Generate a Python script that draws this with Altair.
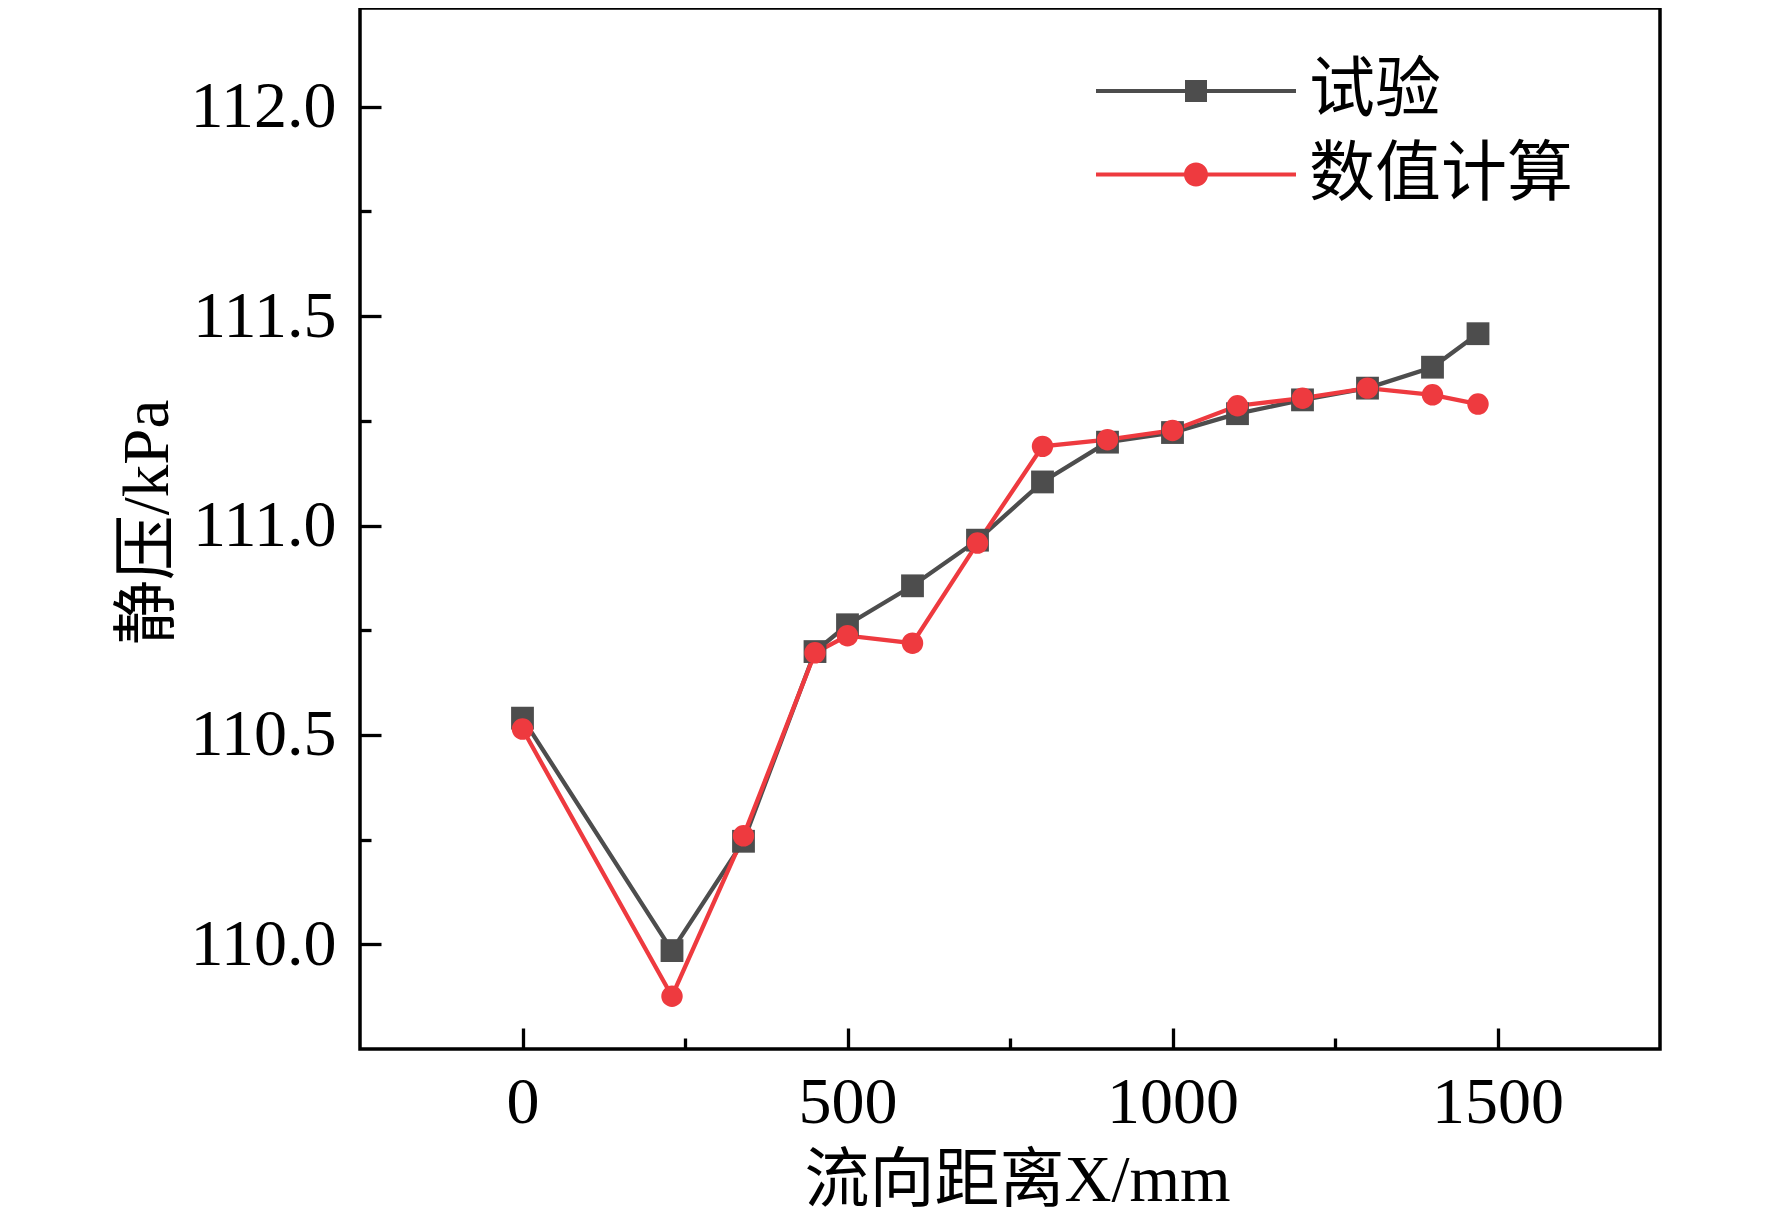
import altair as alt
import pandas as pd

# ---------------- data ----------------
series_names = ["试验", "数值计算"]
x_pos = [0, 230, 340, 450, 500, 600, 700, 800, 900, 1000, 1100, 1200, 1300, 1400, 1470]
y_test = [110.540, 109.985, 110.246, 110.699, 110.763, 110.856, 110.965, 111.104,
          111.199, 111.222, 111.267, 111.300, 111.328, 111.378, 111.458]
y_num = [110.514, 109.876, 110.259, 110.696, 110.737, 110.719, 110.958, 111.189,
         111.205, 111.227, 111.286, 111.304, 111.328, 111.312, 111.290]

x_major = [0, 500, 1000, 1500]
x_minor = [250, 750, 1250]
y_major = [110.0, 110.5, 111.0, 111.5, 112.0]
y_minor = [110.25, 110.75, 111.25, 111.75]

df = pd.DataFrame({
    "x": x_pos + x_pos,
    "y": y_test + y_num,
    "series": [series_names[0]] * len(x_pos) + [series_names[1]] * len(x_pos),
})

# ---------------- styling ----------------
FONT = "Liberation Serif, Noto Sans CJK SC"
W, H = 1300, 1041
colors = ["#4D4D4D", "#EE3A3F"]

# legend symbols: line segment with a marker in the middle (unit box -1..1)
SQ_PATH = ("M-1,-0.021L-0.11,-0.021L-0.11,-0.11L0.11,-0.11L0.11,-0.021L1,-0.021"
           "L1,0.021L0.11,0.021L0.11,0.11L-0.11,0.11L-0.11,0.021L-1,0.021Z")
CI_PATH = ("M-1,-0.021H-0.1V0.021H-1Z M0.1,-0.021H1V0.021H0.1Z "
           "M-0.12,0A0.12,0.12 0 1,1 0.12,0A0.12,0.12 0 1,1 -0.12,0Z")

x_scale = alt.Scale(domain=[-250, 1750], nice=False, zero=False)
y_scale = alt.Scale(domain=[109.75, 112.2357], nice=False, zero=False)
color_scale = alt.Scale(domain=series_names, range=colors)
shape_scale = alt.Scale(domain=series_names, range=["square", "circle"])
legend_shape_scale = alt.Scale(domain=series_names, range=[SQ_PATH, CI_PATH])
size_scale = alt.Scale(domain=series_names, range=[520, 460])

legend_spec = alt.Legend(
    title=None, orient="none", direction="vertical", legendX=736, legendY=42.5,
    symbolSize=40000, symbolStrokeWidth=0, clipHeight=81, rowPadding=2.5,
    labelOffset=13, labelFontSize=66, labelColor="black", labelLimit=600,
    padding=0, symbolOpacity=1,
)

base = alt.Chart(df)

# lines + tick labels + titles
lines = base.mark_line(strokeWidth=4.3).encode(
    x=alt.X("x:Q", scale=x_scale, axis=alt.Axis(
        orient="bottom", values=x_major, format="d", ticks=False, tickSize=0,
        domain=False, grid=False, labelFontSize=66, labelPadding=21,
        labelColor="black", title="流向距离X/mm", titleFontSize=65,
        titleFontWeight="normal", titleColor="black", titlePadding=14,
        titleX=657)),
    y=alt.Y("y:Q", scale=y_scale, axis=alt.Axis(
        orient="left", values=y_major, format=".1f", ticks=False, tickSize=0,
        domain=False, grid=False, labelFontSize=66, labelPadding=24,
        labelColor="black", title="静压/kPa", titleFontSize=65,
        titleFontWeight="normal", titleColor="black", titlePadding=8,
        titleY=514)),
    color=alt.Color("series:N", scale=color_scale, legend=None),
)

# markers + inward major ticks
points = base.mark_point(filled=True, opacity=1, strokeWidth=0).encode(
    x=alt.X("x:Q", scale=x_scale, axis=alt.Axis(
        orient="top", offset=-H, values=x_major, labels=False, domain=False,
        grid=False, ticks=True, tickSize=21, tickWidth=3.3, tickColor="black",
        title=None)),
    y=alt.Y("y:Q", scale=y_scale, axis=alt.Axis(
        orient="right", offset=-W, values=y_major, labels=False, domain=False,
        grid=False, ticks=True, tickSize=21, tickWidth=3.3, tickColor="black",
        title=None)),
    color=alt.Color("series:N", scale=color_scale, legend=None),
    shape=alt.Shape("series:N", scale=shape_scale, legend=None),
    size=alt.Size("series:N", scale=size_scale, legend=None),
)

# invisible layer: inward minor ticks + the legend (line-with-marker symbols)
minor = base.mark_point(opacity=0, filled=True).encode(
    x=alt.X("x:Q", scale=x_scale, axis=alt.Axis(
        orient="top", offset=-H, values=x_minor, labels=False, domain=False,
        grid=False, ticks=True, tickSize=11, tickWidth=3.3, tickColor="black",
        title=None)),
    y=alt.Y("y:Q", scale=y_scale, axis=alt.Axis(
        orient="right", offset=-W, values=y_minor, labels=False, domain=False,
        grid=False, ticks=True, tickSize=11, tickWidth=3.3, tickColor="black",
        title=None)),
    color=alt.Color("series:N", scale=color_scale, legend=legend_spec),
    shape=alt.Shape("series:N", scale=legend_shape_scale, legend=legend_spec),
)

chart = (
    alt.layer(lines, points, minor)
    .resolve_axis(x="independent", y="independent")
    .resolve_scale(color="independent", shape="independent")
    .properties(
        width=W, height=H,
        autosize=alt.AutoSizeParams(type="none"),
        padding={"left": 352, "top": 0, "right": 100, "bottom": 170},
        background="white",
    )
    .configure_view(stroke="black", strokeWidth=3.5)
    .configure_axis(labelFont=FONT, titleFont=FONT)
    .configure_legend(labelFont=FONT)
)

chart.save("out.html", embed_options={"renderer": "svg", "actions": False})
